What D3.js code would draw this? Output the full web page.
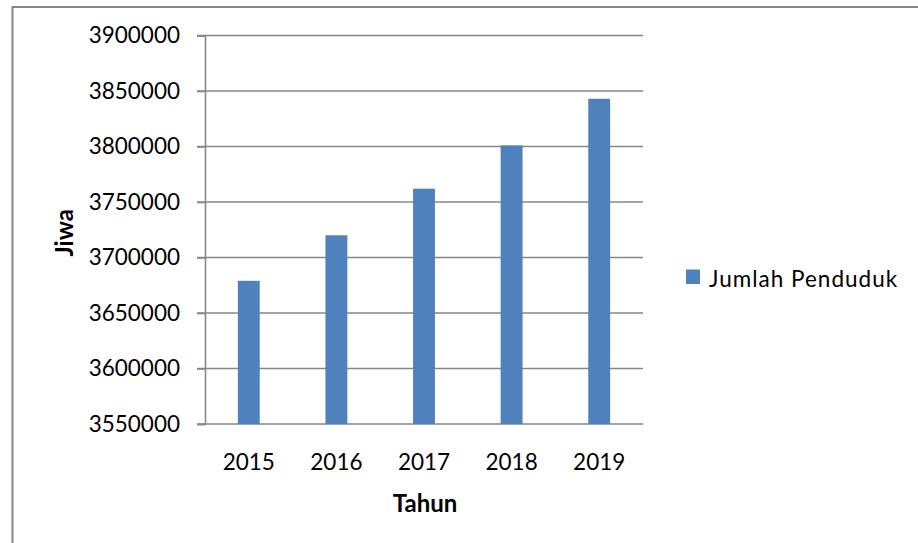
<!DOCTYPE html>
<html>
<head>
<meta charset="utf-8">
<script src="https://cdn.jsdelivr.net/npm/d3@7"></script>
<style>
  html, body { margin: 0; padding: 0; background: #fff; }
  svg { display: block; }
  text { font-family: Lato, "Open Sans", sans-serif; fill: #000; }
</style>
</head>
<body>
<svg id="chart" width="918" height="543"></svg>
<script>
const categories = ["2015", "2016", "2017", "2018", "2019"];
const seriesName = "Jumlah Penduduk";
const values = [3679000, 3720000, 3762000, 3801000, 3843000];
const yTicks = [3550000, 3600000, 3650000, 3700000, 3750000, 3800000, 3850000, 3900000];
const yDomain = [3550000, 3900000];
const xTitle = "Tahun";
const yTitle = "Jiwa";

const svg = d3.select("#chart");
const plot = { left: 205, right: 643, top: 35.5, bottom: 424 };
const gridColor = "#878787";
const barColor = "#4F81BD";

// outer chart border
svg.append("rect")
  .attr("x", 12.5).attr("y", 7)
  .attr("width", 930).attr("height", 560)
  .attr("fill", "none").attr("stroke", gridColor).attr("stroke-width", 2);

const x = d3.scaleBand().domain(categories)
  .range([plot.left, plot.right])
  .paddingInner(0.75).paddingOuter(0.375);
const y = d3.scaleLinear().domain(yDomain).range([plot.bottom, plot.top]);

// gridlines
svg.append("g").selectAll("line").data(yTicks).join("line")
  .attr("x1", plot.left - 8).attr("x2", plot.right)
  .attr("y1", d => y(d)).attr("y2", d => y(d))
  .attr("stroke", gridColor).attr("stroke-width", 1.6);

// y axis
const yAxis = svg.append("g")
  .attr("transform", `translate(${plot.left},0)`)
  .call(d3.axisLeft(y).tickValues(yTicks).tickSize(8).tickPadding(17).tickFormat(d3.format("d")));
yAxis.select(".domain").attr("stroke", gridColor).attr("stroke-width", 1.6);
yAxis.selectAll(".tick line").attr("stroke", gridColor).attr("stroke-width", 1.6);
yAxis.selectAll(".tick text")
  .style("font-family", "Lato, 'Open Sans', sans-serif")
  .style("font-size", "22.5px").attr("fill", "#000");

// bars
svg.append("g").selectAll("rect").data(values).join("rect")
  .attr("x", (d, i) => x(categories[i]))
  .attr("width", x.bandwidth())
  .attr("y", d => y(d))
  .attr("height", d => y(yDomain[0]) - y(d))
  .attr("fill", barColor);

// x axis labels
const xAxis = svg.append("g")
  .attr("transform", `translate(0,${plot.bottom})`)
  .call(d3.axisBottom(x).tickSize(0).tickPadding(30));
xAxis.select(".domain").remove();
xAxis.selectAll(".tick text")
  .style("font-family", "Lato, 'Open Sans', sans-serif")
  .style("font-size", "22.5px").attr("fill", "#000");

// axis titles
svg.append("text")
  .attr("x", (plot.left + plot.right) / 2 + 1).attr("y", 512)
  .attr("text-anchor", "middle")
  .style("font-size", "24px").style("font-weight", "bold")
  .text(xTitle);

svg.append("text")
  .attr("transform", `translate(73,${(plot.top + plot.bottom) / 2 + 3}) rotate(-90)`)
  .attr("text-anchor", "middle")
  .style("font-size", "24px").style("font-weight", "bold")
  .text(yTitle);

// legend
const legend = svg.append("g");
legend.append("rect")
  .attr("x", 686).attr("y", 269.5).attr("width", 14).attr("height", 14.5)
  .attr("fill", barColor);
legend.append("text")
  .attr("x", 709).attr("y", 286.5)
  .style("font-size", "22.5px").style("letter-spacing", "1px")
  .text(seriesName);
</script>
</body>
</html>
